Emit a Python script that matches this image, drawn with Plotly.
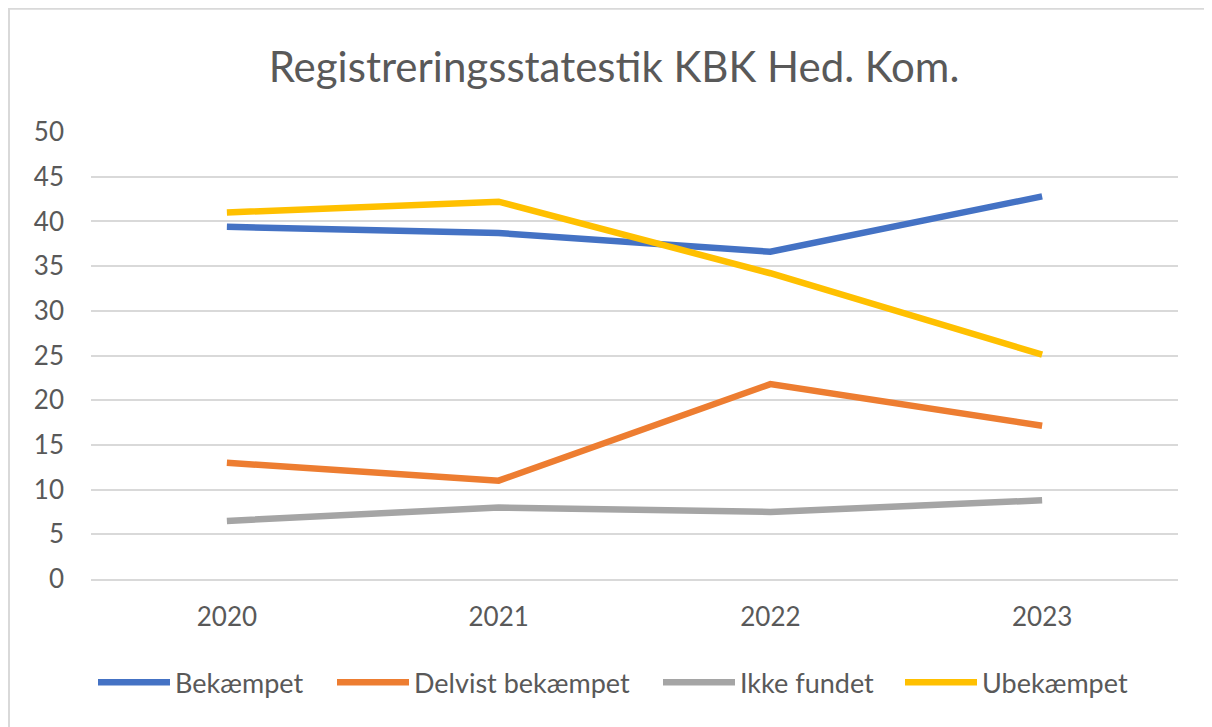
import plotly.graph_objects as go

years = ["2020", "2021", "2022", "2023"]
bekaempet = [39.4, 38.7, 36.6, 42.8]
delvist = [13.0, 11.0, 21.8, 17.15]
ikke_fundet = [6.5, 8.0, 7.5, 8.8]
ubekaempet = [41.0, 42.2, 34.2, 25.1]

series = [
    ("Bekæmpet", bekaempet, "#4472C4"),
    ("Delvist bekæmpet", delvist, "#ED7D31"),
    ("Ikke fundet", ikke_fundet, "#A5A5A5"),
    ("Ubekæmpet", ubekaempet, "#FFC000"),
]

FONT = "Lato, Carlito, Calibri, sans-serif"
OFF = 8  # page body margin

W, H = 1212, 727
# target plot area in page pixels
PL, PR, PT, PB = 91, 1178, 132.3, 579.3
ml = PL - OFF
mt = PT - OFF
mr = W - (PR - OFF)
mb = H - (PB - OFF)
pw, ph = W - ml - mr, H - mt - mb

def px_x(p):
    return (p - OFF - ml) / pw

def px_y(p):
    return (H - mb - (p - OFF)) / ph

# legend line start positions (page px)
leg_x = [98, 337, 663, 905]
leg_names = ["legend", "legend2", "legend3", "legend4"]

fig = go.Figure()
for (name, vals, color), lg in zip(series, leg_names):
    fig.add_trace(go.Scatter(
        x=years, y=vals, name=name, mode="lines",
        line=dict(color=color, width=6.5),
        legend=lg,
    ))

legend_common = dict(orientation="h", xanchor="left", yanchor="middle",
                     font=dict(size=27, color="#595959", family=FONT),
                     itemwidth=72, borderwidth=0, bgcolor="rgba(0,0,0,0)")

layout_legends = {}
for lg, lx in zip(leg_names, leg_x):
    layout_legends[lg] = dict(legend_common, x=px_x(lx - 5), y=px_y(683))

fig.update_layout(
    width=W, height=H,
    margin=dict(l=ml, r=mr, t=mt, b=mb),
    paper_bgcolor="white", plot_bgcolor="white",
    font=dict(family=FONT, color="#595959", size=26),
    title=dict(text="Registreringsstatestik KBK Hed. Kom.", x=0.5, xanchor="center",
               y=1 - (67 - OFF) / H, yanchor="middle",
               font=dict(size=42, color="#595959", family=FONT)),
    xaxis=dict(type="category", range=[-0.5, 3.5], showgrid=False,
               showline=True, linecolor="#D9D9D9", linewidth=1.5,
               ticks="", ticklabelstandoff=14, tickfont=dict(size=26)),
    yaxis=dict(range=[0, 50], dtick=5, tick0=0, showgrid=True, gridcolor="#D9D9D9",
               gridwidth=1.5, zeroline=False, showline=False, ticks="",
               ticklabelstandoff=26, tickfont=dict(size=26)),
    showlegend=True,
    **layout_legends,
)

fig.add_shape(type="rect", xref="paper", yref="paper",
              x0=px_x(8.5), x1=px_x(1230), y0=px_y(745), y1=px_y(8.5),
              line=dict(color="#D9D9D9", width=3), fillcolor="rgba(0,0,0,0)", layer="below")

fig.write_html("out.html")
